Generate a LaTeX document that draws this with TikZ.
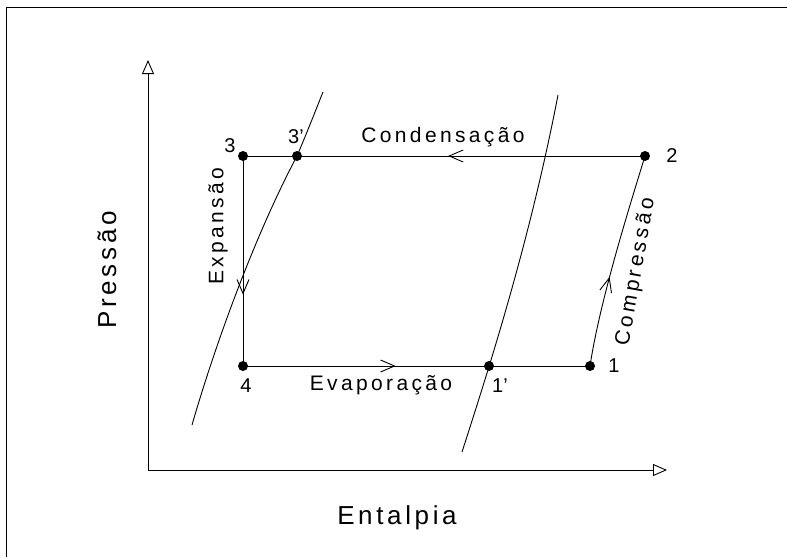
\documentclass[tikz,border=0pt]{standalone}
\usepackage{fontspec}
\setmainfont{Liberation Sans}
\newfontfamily\smallfam{Liberation Sans}[LetterSpace=16]
\newfontfamily\bigfam{Liberation Sans}[LetterSpace=14]
\usetikzlibrary{arrows.meta,decorations.markings}
\tikzset{
  ln/.style={line width=0.9pt},
  pt/.style={circle,fill=black,inner sep=0pt,minimum size=10pt},
  lbl/.style={font=\smallfam\fontsize{21}{21}\selectfont,inner sep=1pt},
  num/.style={font=\fontsize{20}{20}\selectfont,inner sep=1pt},
  big/.style={font=\bigfam\fontsize{26}{26}\selectfont,inner sep=1pt},
  axarrow/.style={-{Triangle[open,length=14pt,width=12pt]}},
  midarrow/.style={postaction={decorate},decoration={markings,mark=at position #1 with {\arrow{Straight Barb[length=14pt,width=12pt,line width=0.9pt]}}}}
}
\begin{document}
\begin{tikzpicture}[x=1pt,y=-1pt]
\useasboundingbox (0,0) rectangle (787,557);
% frame
\coordinate (fl) at (6,557);
\coordinate (ft) at (6,7);
\coordinate (fr) at (787,7);
\draw[ln] (fl) -- (ft) -- (fr);
% axes
\coordinate (o) at (148,470);
\coordinate (ytop) at (148,60);
\coordinate (xend) at (667,470);
\draw[ln,axarrow] (o) -- (ytop);
\draw[ln,axarrow] (o) -- (xend);
% saturation curves
\coordinate (la) at (192,425);
\coordinate (lb) at (323,92);
\draw[ln] (la) .. controls (215,345) and (255,235) .. (297,156) .. controls (306,135) and (315,112) .. (lb);
\coordinate (ra) at (462,452);
\coordinate (rb) at (558,95);
\draw[ln] (ra) .. controls (490,365) and (530,240) .. (rb);
% cycle points
\node[pt] (p3) at (243,156) {};
\node[pt] (p3p) at (297,156) {};
\node[pt] (p2) at (645,156) {};
\node[pt] (p4) at (243,366) {};
\node[pt] (p1p) at (489,366) {};
\node[pt] (p1) at (590,366) {};
% cycle lines
\draw[ln,midarrow=0.49] (p2.center) -- (p3.center);
\draw[ln,midarrow=0.66] (p3.center) -- (p4.center);
\draw[ln,midarrow=0.44] (p4.center) -- (p1.center);
\draw[ln,midarrow=0.42] (p1.center) .. controls (600,300) and (630,205) .. (p2.center);
% labels
\node[num] (l3) at (230,146) {3};
\node[num] (l3p) at (296,137) {3'};
\node[num] (l2) at (672,156) {2};
\node[num] (l4) at (246,386) {4};
\node[num] (l1p) at (500,386) {1'};
\node[num] (l1) at (614,366) {1};
\node[lbl] (cond) at (443,137) {Condensação};
\node[lbl] (evap) at (381,385) {Evaporação};
\node[lbl,rotate=90] (exp) at (218,226) {Expansão};
\node[lbl,rotate=80] (comp) at (636,272) {Compressão};
\node[big,rotate=90] (pres) at (107,270) {Pressão};
\node[big] (ent) at (397,518) {Entalpia};
\end{tikzpicture}
\end{document}
